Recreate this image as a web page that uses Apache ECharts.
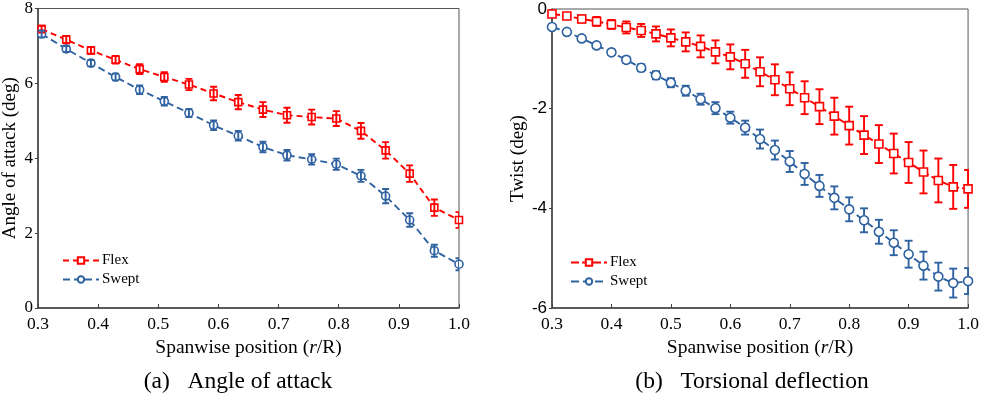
<!DOCTYPE html>
<html>
<head>
<meta charset="utf-8">
<script src="https://cdn.jsdelivr.net/npm/echarts@6/dist/echarts.min.js"></script>
<style>
html,body{margin:0;padding:0;background:#fff;}
#c{width:982px;height:396px;}
</style>
</head>
<body>
<div id="c"></div>
<script>
// ---- Data: (a) Angle of attack ----
var xA = [0.306,0.347,0.388,0.429,0.469,0.510,0.551,0.592,0.633,0.674,0.714,0.755,0.796,0.837,0.878,0.918,0.959,1.0];
var flexA = [7.45,7.17,6.88,6.63,6.38,6.17,5.97,5.73,5.50,5.30,5.15,5.10,5.06,4.73,4.21,3.59,2.68,2.35];
var flexAErr = [0.09,0.10,0.09,0.10,0.13,0.13,0.15,0.18,0.19,0.20,0.20,0.20,0.20,0.21,0.22,0.22,0.22,0.21];
var sweptA = [7.32,6.92,6.54,6.17,5.83,5.52,5.21,4.88,4.60,4.30,4.08,3.97,3.84,3.53,2.99,2.35,1.53,1.17];
var sweptAErr = [0.09,0.08,0.085,0.09,0.115,0.115,0.11,0.13,0.13,0.14,0.14,0.14,0.15,0.16,0.19,0.18,0.16,0.16];

// ---- Data: (b) Torsional deflection ----
var xB = [0.3,0.325,0.35,0.375,0.4,0.425,0.45,0.475,0.5,0.525,0.55,0.575,0.6,0.625,0.65,0.675,0.7,0.725,0.75,0.775,0.8,0.825,0.85,0.875,0.9,0.925,0.95,0.975,1.0];
var flexB = [-0.10,-0.14,-0.20,-0.25,-0.31,-0.37,-0.43,-0.50,-0.58,-0.66,-0.75,-0.86,-0.96,-1.10,-1.26,-1.42,-1.60,-1.78,-1.96,-2.15,-2.34,-2.53,-2.71,-2.90,-3.08,-3.27,-3.44,-3.57,-3.61];
var flexBErr = [0.05,0.05,0.07,0.09,0.09,0.12,0.13,0.15,0.17,0.19,0.22,0.23,0.25,0.28,0.29,0.31,0.33,0.33,0.35,0.37,0.38,0.38,0.38,0.40,0.41,0.43,0.44,0.44,0.38];
var sweptB = [-0.36,-0.46,-0.59,-0.73,-0.87,-1.02,-1.18,-1.33,-1.48,-1.64,-1.81,-1.99,-2.18,-2.38,-2.61,-2.83,-3.06,-3.31,-3.55,-3.79,-4.02,-4.24,-4.47,-4.69,-4.92,-5.15,-5.37,-5.50,-5.46];
var sweptBErr = [0.03,0.035,0.04,0.045,0.05,0.06,0.07,0.08,0.09,0.10,0.11,0.12,0.12,0.14,0.19,0.19,0.21,0.22,0.22,0.23,0.24,0.24,0.24,0.25,0.27,0.28,0.28,0.29,0.26];

// ---- Tick labels / text ----
var xTicks = ['0.3','0.4','0.5','0.6','0.7','0.8','0.9','1.0'];
var seriesNames = ['Flex','Swept'];
var captions = ['(a)\u2002 Angle of attack','(b)\u2002 Torsional deflection'];

var RED = '#FF0000', BLUE = '#2E62A0';
var SERIF = '"Liberation Serif","Times New Roman",serif';
var SANS = '"Liberation Sans",Arial,sans-serif';

function pts(xs, ys){ return xs.map(function(x,i){ return [x, ys[i]]; }); }
function errs(xs, ys, es){ return xs.map(function(x,i){ return [x, ys[i]-es[i], ys[i]+es[i]]; }); }

function errSeries(name, xi, yi, data, color, cap, z){
  return {
    type:'custom', name:name, xAxisIndex:xi, yAxisIndex:yi, z:z, clip:true,
    silent:true, legendHoverLink:false,
    data:data,
    encode:{x:0, y:[1,2]},
    renderItem:function(params, api){
      var x = api.value(0);
      var lo = api.coord([x, api.value(1)]);
      var hi = api.coord([x, api.value(2)]);
      var st = {stroke:color, lineWidth:1.9};
      return {type:'group', children:[
        {type:'line', shape:{x1:lo[0],y1:lo[1],x2:hi[0],y2:hi[1]}, style:st},
        {type:'line', shape:{x1:lo[0]-cap,y1:lo[1],x2:lo[0]+cap,y2:lo[1]}, style:st},
        {type:'line', shape:{x1:hi[0]-cap,y1:hi[1],x2:hi[0]+cap,y2:hi[1]}, style:st}
      ]};
    }
  };
}

function lineSeries(name, xi, yi, data, color, symbol, size, dash){
  return {
    type:'line', name:name, xAxisIndex:xi, yAxisIndex:yi, data:data,
    symbol:symbol, symbolSize:size, showAllSymbol:true, z:3,
    lineStyle:{color:color, width:1.9, type:dash},
    itemStyle:{color:'#fff', borderColor:color, borderWidth:1.6},
    emphasis:{disabled:true}
  };
}

function xAxisCfg(gi){
  return {
    type:'value', gridIndex:gi, min:0.3, max:1.0, interval:0.1,
    axisLine:{show:true, onZero:false, lineStyle:{color:'#404040', width:1.5}},
    axisTick:{show:true, inside:true, length:4, lineStyle:{color:'#404040', width:1}},
    splitLine:{show:false},
    axisLabel:{color:'#000', fontFamily:SERIF, fontSize:17.5, margin:7,
      formatter:function(v){ return xTicks[Math.round((v-0.3)*10)]; }},
    name:'{a|Spanwise position (}{i|r}{a|/R)}', nameLocation:'middle', nameGap:26,
    nameTextStyle:{rich:{
      a:{fontFamily:SERIF, fontSize:19.5, color:'#000'},
      i:{fontFamily:SERIF, fontSize:19.5, fontStyle:'italic', color:'#000'}
    }}
  };
}

function yAxisCfg(gi, min, max, name, gap, labelFont){
  return {
    type:'value', gridIndex:gi, min:min, max:max, interval:2,
    axisLine:{show:true, onZero:false, lineStyle:{color:'#404040', width:1.5}},
    axisTick:{show:true, inside:false, length:3, lineStyle:{color:'#404040', width:1}},
    splitLine:{show:false},
    axisLabel:{color:'#000', fontFamily:labelFont, fontSize:17, margin:5},
    name:name, nameLocation:'middle', nameGap:gap, nameRotate:90,
    nameTextStyle:{fontFamily:SERIF, fontSize:19, color:'#000'}
  };
}

function legendCfg(left, top, gi){
  return {
    orient:'vertical', left:left, top:top, itemWidth:36, itemHeight:8, itemGap:4,
    data: gi===0 ? ['Flex','Swept'] : ['Flex ','Swept '],
    textStyle:{fontFamily:SERIF, fontSize:15, color:'#000', padding:[0,0,0,-2]},
    selectedMode:false
  };
}

var chart = echarts.init(document.getElementById('c'), null, {renderer:'canvas'});
chart.setOption({
  animation:false,
  backgroundColor:'#fff',
  grid:[
    {left:37, top:8, width:422, height:300, show:true, borderColor:'#555', borderWidth:1, backgroundColor:'transparent'},
    {left:552, top:9, width:418, height:299, show:true, borderColor:'#555', borderWidth:1, backgroundColor:'transparent'}
  ],
  xAxis:[xAxisCfg(0), xAxisCfg(1)],
  yAxis:[
    yAxisCfg(0, 0, 8, 'Angle of attack (deg)', 18, SERIF),
    yAxisCfg(1, -6, 0, 'Twist (deg)', 24, SANS)
  ],
  legend:[legendCfg(57, 248, 0), legendCfg(565, 250, 1)],
  series:[
    errSeries('FlexErrA', 0, 0, errs(xA, flexA, flexAErr), RED, 3.5, 4),
    errSeries('SweptErrA', 0, 0, errs(xA, sweptA, sweptAErr), BLUE, 3.5, 4),
    lineSeries(seriesNames[0], 0, 0, pts(xA, flexA), RED, 'rect', 7, [6,4]),
    lineSeries(seriesNames[1], 0, 0, pts(xA, sweptA), BLUE, 'circle', 8, [7,4]),
    errSeries('FlexErrB', 1, 1, errs(xB, flexB, flexBErr), RED, 4, 2),
    errSeries('SweptErrB', 1, 1, errs(xB, sweptB, sweptBErr), BLUE, 4, 2),
    lineSeries(seriesNames[0]+' ', 1, 1, pts(xB, flexB), RED, 'rect', 8, [8,3]),
    lineSeries(seriesNames[1]+' ', 1, 1, pts(xB, sweptB), BLUE, 'circle', 9, [8,4])
  ],
  graphic:[
    {type:'text', x:238, y:382, style:{text:captions[0], fontFamily:SERIF, fontSize:23.5, fill:'#000', textAlign:'center', textVerticalAlign:'middle'}},
    {type:'text', x:752, y:382, style:{text:captions[1], fontFamily:SERIF, fontSize:23.5, fill:'#000', textAlign:'center', textVerticalAlign:'middle'}}
  ]
});
</script>
</body>
</html>
